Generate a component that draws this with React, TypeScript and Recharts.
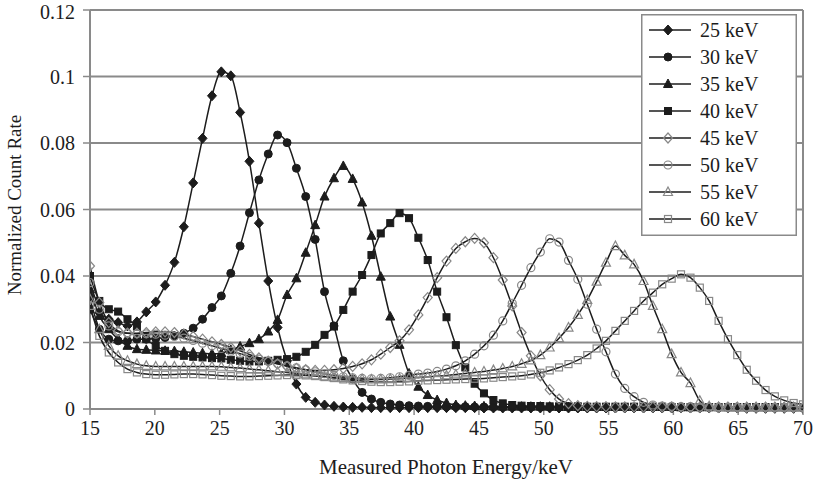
import React from "react";
import {
  LineChart,
  Line,
  XAxis,
  YAxis,
  CartesianGrid,
  ReferenceLine,
  Legend,
} from "recharts";

// measured photon energy (keV), one point per channel
const energies = [
  15.0, 15.72, 16.45, 17.17, 17.89, 18.62, 19.34, 20.07, 20.79, 21.51,
  22.24, 22.96, 23.68, 24.41, 25.13, 25.86, 26.58, 27.3, 28.03, 28.75,
  29.47, 30.2, 30.92, 31.64, 32.37, 33.09, 33.82, 34.54, 35.26, 35.99,
  36.71, 37.43, 38.16, 38.88, 39.61, 40.33, 41.05, 41.78, 42.5, 43.22,
  43.95, 44.67, 45.39, 46.12, 46.84, 47.57, 48.29, 49.01, 49.74, 50.46,
  51.18, 51.91, 52.63, 53.36, 54.08, 54.8, 55.53, 56.25, 56.97, 57.7,
  58.42, 59.14, 59.87, 60.59, 61.32, 62.04, 62.76, 63.49, 64.21, 64.93,
  65.66, 66.38, 67.11, 67.83, 68.55, 69.28, 70.0,
];

const kev25 = [
  0.034, 0.029, 0.027, 0.026, 0.025, 0.0262, 0.0292, 0.0322, 0.0372, 0.0441,
  0.0548, 0.068, 0.0814, 0.0942, 0.1014, 0.1002, 0.0892, 0.0745, 0.0559, 0.0385,
  0.0245, 0.0145, 0.0075, 0.0035, 0.002, 0.0012, 0.0008, 0.0006, 0.0005, 0.0005,
  0.0004, 0.0004, 0.0004, 0.0004, 0.0004, 0.0004, 0.0004, 0.0004, 0.0004, 0.0004,
  0.0004, 0.0004, 0.0003, 0.0003, 0.0003, 0.0003, 0.0003, 0.0003, 0.0003, 0.0003,
  0.0003, 0.0003, 0.0003, 0.0003, 0.0003, 0.0003, 0.0003, 0.0003, 0.0003, 0.0003,
  0.0003, 0.0003, 0.0003, 0.0003, 0.0003, 0.0003, 0.0003, 0.0003, 0.0003, 0.0003,
  0.0002, 0.0002, 0.0002, 0.0002, 0.0002, 0.0002, 0.0002,
];

const kev30 = [
  0.03, 0.024, 0.021, 0.0205, 0.0205, 0.021, 0.021, 0.0212, 0.0215, 0.022,
  0.0228, 0.0243, 0.027, 0.0305, 0.034, 0.0408, 0.049, 0.059, 0.0689, 0.0767,
  0.0824, 0.0801, 0.0724, 0.0639, 0.051, 0.0353, 0.025, 0.0145, 0.009, 0.005,
  0.003, 0.002, 0.0015, 0.0012, 0.001, 0.0009, 0.0008, 0.0008, 0.0007, 0.0007,
  0.0007, 0.0006, 0.0006, 0.0006, 0.0006, 0.0006, 0.0006, 0.0006, 0.0006, 0.0006,
  0.0006, 0.0006, 0.0005, 0.0005, 0.0005, 0.0005, 0.0005, 0.0005, 0.0005, 0.0005,
  0.0005, 0.0005, 0.0005, 0.0005, 0.0005, 0.0005, 0.0005, 0.0005, 0.0005, 0.0005,
  0.0004, 0.0004, 0.0004, 0.0004, 0.0004, 0.0004, 0.0004,
];

const kev35 = [
  0.036, 0.028, 0.024, 0.021, 0.019, 0.018, 0.0178, 0.0176, 0.0175, 0.0174,
  0.0172, 0.017, 0.0168, 0.0166, 0.0168, 0.0178, 0.0188, 0.0198, 0.021, 0.0233,
  0.0268, 0.0343, 0.0393, 0.047, 0.0553, 0.0639, 0.0694, 0.0731, 0.0692, 0.0621,
  0.0521, 0.0398, 0.0278, 0.0193, 0.0107, 0.0067, 0.0042, 0.0027, 0.0018, 0.0012,
  0.001, 0.0009, 0.0008, 0.0008, 0.0007, 0.0007, 0.0007, 0.0007, 0.0007, 0.0007,
  0.0006, 0.0006, 0.0006, 0.0006, 0.0006, 0.0006, 0.0006, 0.0006, 0.0006, 0.0006,
  0.0006, 0.0006, 0.0006, 0.0005, 0.0005, 0.0005, 0.0005, 0.0005, 0.0005, 0.0005,
  0.0005, 0.0005, 0.0005, 0.0005, 0.0005, 0.0005, 0.0005,
];

const kev40 = [
  0.04, 0.0325, 0.03, 0.0293, 0.027, 0.0248, 0.021, 0.019, 0.0175, 0.0165,
  0.016, 0.0157, 0.0155, 0.0153, 0.0152, 0.0148, 0.0145, 0.0143, 0.0143, 0.0145,
  0.0148, 0.015, 0.0157, 0.0172, 0.0193, 0.0223, 0.0248, 0.0298, 0.0353, 0.0403,
  0.0463, 0.0528, 0.0559, 0.0589, 0.0574, 0.0515, 0.0448, 0.0353, 0.0276, 0.0192,
  0.0125, 0.0076, 0.0047, 0.0027, 0.0017, 0.0012, 0.001, 0.0009, 0.0009, 0.0008,
  0.0008, 0.0008, 0.0008, 0.0007, 0.0007, 0.0007, 0.0007, 0.0007, 0.0007, 0.0007,
  0.0007, 0.0007, 0.0006, 0.0006, 0.0006, 0.0006, 0.0006, 0.0006, 0.0006, 0.0006,
  0.0006, 0.0006, 0.0006, 0.0006, 0.0006, 0.0006, 0.0006,
];

const kev45 = [
  0.043, 0.032, 0.026, 0.0235, 0.0228, 0.0228, 0.023, 0.0232, 0.0232, 0.023,
  0.0225, 0.0218, 0.021, 0.0202, 0.0194, 0.0185, 0.0175, 0.0164, 0.0154, 0.0144,
  0.0136, 0.0128, 0.0122, 0.0118, 0.0116, 0.0116, 0.0118, 0.0122, 0.0128, 0.0136,
  0.0148, 0.0165, 0.0185, 0.0205, 0.0238, 0.0283, 0.0335, 0.0395, 0.0445, 0.0483,
  0.0503, 0.0513, 0.05, 0.0455, 0.0388, 0.031, 0.023, 0.016, 0.01, 0.0058,
  0.003, 0.0016, 0.001, 0.0008, 0.0007, 0.0007, 0.0006, 0.0006, 0.0006, 0.0006,
  0.0006, 0.0006, 0.0006, 0.0005, 0.0005, 0.0005, 0.0005, 0.0005, 0.0005, 0.0005,
  0.0005, 0.0005, 0.0005, 0.0005, 0.0005, 0.0005, 0.0005,
];

const kev50 = [
  0.038, 0.03, 0.025, 0.0232, 0.0228, 0.0226, 0.0226, 0.0225, 0.0222, 0.0218,
  0.0213, 0.0206, 0.0198, 0.019, 0.0182, 0.0174, 0.0166, 0.0158, 0.015, 0.0143,
  0.0136, 0.013, 0.0124, 0.0118, 0.0112, 0.0106, 0.0101, 0.0097, 0.0094, 0.0092,
  0.0091, 0.0092, 0.0094, 0.0097, 0.0101, 0.0105, 0.0108, 0.0113, 0.012, 0.013,
  0.0145, 0.0165, 0.019, 0.0222, 0.0265, 0.0318, 0.0372, 0.0425, 0.0472, 0.0512,
  0.0502, 0.0447, 0.039, 0.0315, 0.024, 0.0172, 0.0105, 0.0062, 0.0037, 0.002,
  0.0012, 0.0009, 0.0008, 0.0007, 0.0007, 0.0006, 0.0006, 0.0006, 0.0006, 0.0006,
  0.0005, 0.0005, 0.0005, 0.0005, 0.0005, 0.0005, 0.0005,
];

const kev55 = [
  0.033, 0.024, 0.019, 0.016, 0.0145, 0.0135, 0.013, 0.0128, 0.0128, 0.0128,
  0.0128, 0.0128, 0.0128, 0.0128, 0.0127, 0.0125, 0.0123, 0.012, 0.0118, 0.0115,
  0.0112, 0.011, 0.0107, 0.0104, 0.0101, 0.0098, 0.0095, 0.0093, 0.0091, 0.009,
  0.0089, 0.0089, 0.009, 0.0091, 0.0093, 0.0095, 0.0097, 0.0099, 0.0101, 0.0104,
  0.0107, 0.011, 0.0113, 0.0117, 0.0122, 0.0128, 0.0136, 0.0146, 0.0162, 0.0185,
  0.0213, 0.0245, 0.0283, 0.0328, 0.0383, 0.044, 0.049, 0.0462, 0.0435, 0.0385,
  0.031, 0.024, 0.0165, 0.011, 0.0078, 0.0025, 0.0008, 0.0006, 0.0005, 0.0005,
  0.0005, 0.0005, 0.0005, 0.0005, 0.0005, 0.0005, 0.0005,
];

const kev60 = [
  0.031, 0.022, 0.017, 0.014, 0.012, 0.011, 0.0105, 0.0103, 0.0103, 0.0104,
  0.0105, 0.0105, 0.0104, 0.0102, 0.01, 0.0099, 0.0098, 0.0098, 0.0099, 0.01,
  0.0101, 0.0102, 0.0102, 0.0101, 0.0099, 0.0096, 0.0093, 0.0089, 0.0086, 0.0084,
  0.0082, 0.0081, 0.0081, 0.0082, 0.0083, 0.0085, 0.0086, 0.0087, 0.0088, 0.0089,
  0.009, 0.0091, 0.0092, 0.0094, 0.0096, 0.0098, 0.01, 0.0104, 0.0109, 0.0116,
  0.0125, 0.0135, 0.0147, 0.0162, 0.0182, 0.0205, 0.0235, 0.0265, 0.0295, 0.0325,
  0.035, 0.0375, 0.0392, 0.0405, 0.0395, 0.0365, 0.0325, 0.0265, 0.021, 0.0162,
  0.0118, 0.0085, 0.0057, 0.0038, 0.0026, 0.0018, 0.0014,
];

const xTicks = [15, 20, 25, 30, 35, 40, 45, 50, 55, 60, 65, 70];
const yTicks = [0, 0.02, 0.04, 0.06, 0.08, 0.1, 0.12];
const yTickLabels = ["0", "0.02", "0.04", "0.06", "0.08", "0.1", "0.12"];

const series = [
  { key: "k25", name: "25 keV", values: kev25, shape: "diamond", filled: true },
  { key: "k30", name: "30 keV", values: kev30, shape: "circle", filled: true },
  { key: "k35", name: "35 keV", values: kev35, shape: "triangle", filled: true },
  { key: "k40", name: "40 keV", values: kev40, shape: "square", filled: true },
  { key: "k45", name: "45 keV", values: kev45, shape: "diamond", filled: false },
  { key: "k50", name: "50 keV", values: kev50, shape: "circle", filled: false },
  { key: "k55", name: "55 keV", values: kev55, shape: "triangle", filled: false },
  { key: "k60", name: "60 keV", values: kev60, shape: "square", filled: false },
];

const rows = energies.map((energy, i) => {
  const row: Record<string, number> = { energy };
  series.forEach((s) => {
    row[s.key] = s.values[i];
  });
  return row;
});

const FONT = '"Liberation Serif", "Times New Roman", serif';
const GRID = "#8a8a8a";
const INK = "#1c1c1c";

function Marker({ shape, filled, cx, cy }: { shape: string; filled: boolean; cx: number; cy: number }) {
  const fill = filled ? INK : "none";
  const stroke = filled ? INK : "#888";
  const sw = filled ? 1 : 1.2;
  if (shape === "diamond") {
    const pts = `${cx},${cy - 5} ${cx + 4.5},${cy} ${cx},${cy + 5} ${cx - 4.5},${cy}`;
    return <polygon points={pts} fill={fill} stroke={stroke} strokeWidth={sw} />;
  }
  if (shape === "circle") {
    return <circle cx={cx} cy={cy} r={4} fill={fill} stroke={stroke} strokeWidth={sw} />;
  }
  if (shape === "triangle") {
    const pts = `${cx},${cy - 5} ${cx + 4.5},${cy + 3.5} ${cx - 4.5},${cy + 3.5}`;
    return <polygon points={pts} fill={fill} stroke={stroke} strokeWidth={sw} />;
  }
  return <rect x={cx - 3.5} y={cy - 3.5} width={7} height={7} fill={fill} stroke={stroke} strokeWidth={sw} />;
}

function LegendBox() {
  return (
    <svg width={156} height={222} style={{ display: "block" }}>
      <rect x={0.75} y={0.75} width={154.5} height={220.5} fill="#fff" stroke={GRID} strokeWidth={1.5} />
      {series.map((s, i) => {
        const y = 16 + i * 27;
        return (
          <g key={s.key}>
            <line x1={8} x2={50} y1={y} y2={y} stroke={INK} strokeWidth={1.5} />
            <Marker shape={s.shape} filled={s.filled} cx={27} cy={y} />
            <text x={59} y={y} dy="0.35em" fontSize={20} fontFamily={FONT} fill={INK}>
              {s.name}
            </text>
          </g>
        );
      })}
    </svg>
  );
}

export default function App() {
  return (
    <div style={{ position: "absolute", left: 0, top: 0, width: 814, height: 482, background: "#fff" }}>
      <LineChart width={814} height={482} data={rows} margin={{ top: 10, right: 11, bottom: 33, left: 0 }}>
        <CartesianGrid vertical={false} stroke={GRID} strokeWidth={2} />
        <XAxis
          dataKey="energy"
          type="number"
          domain={[15, 70]}
          ticks={xTicks}
          allowDataOverflow
          height={40}
          tickSize={6}
          tickMargin={6}
          axisLine={{ stroke: GRID, strokeWidth: 2 }}
          tickLine={{ stroke: GRID, strokeWidth: 1.5 }}
          tick={{ fill: INK, fontSize: 20, fontFamily: FONT }}
        />
        <YAxis
          type="number"
          domain={[0, 0.12]}
          ticks={yTicks}
          width={90}
          tickSize={7}
          tickMargin={8}
          tickFormatter={(v: number) => yTickLabels[yTicks.indexOf(v)] ?? String(v)}
          axisLine={{ stroke: GRID, strokeWidth: 2 }}
          tickLine={{ stroke: GRID, strokeWidth: 1.5 }}
          tick={{ fill: INK, fontSize: 20, fontFamily: FONT }}
        />
        <ReferenceLine x={70} stroke={GRID} strokeWidth={2} />
        {series.map((s) => (
          <Line
            key={s.key}
            dataKey={s.key}
            name={s.name}
            type="monotone"
            stroke={INK}
            strokeWidth={1.5}
            isAnimationActive={false}
            dot={(p: any) => (
              <Marker key={`${s.key}-${p.index}`} shape={s.shape} filled={s.filled} cx={p.cx} cy={p.cy} />
            )}
            activeDot={false}
          />
        ))}
        <Legend
          layout="vertical"
          align="center"
          verticalAlign="middle"
          content={() => <LegendBox />}
          wrapperStyle={{ left: 641, top: 14, width: 156, height: 222 }}
        />
      </LineChart>
      <div
        style={{
          position: "absolute",
          left: 446,
          top: 467,
          transform: "translate(-50%, -50%)",
          fontFamily: FONT,
          fontSize: 21,
          color: INK,
          whiteSpace: "nowrap",
        }}
      >
        Measured Photon Energy/keV
      </div>
      <div
        style={{
          position: "absolute",
          left: 15,
          top: 205,
          transform: "translate(-50%, -50%) rotate(-90deg)",
          fontFamily: FONT,
          fontSize: 19,
          color: INK,
          whiteSpace: "nowrap",
        }}
      >
        Normalized Count Rate
      </div>
    </div>
  );
}
